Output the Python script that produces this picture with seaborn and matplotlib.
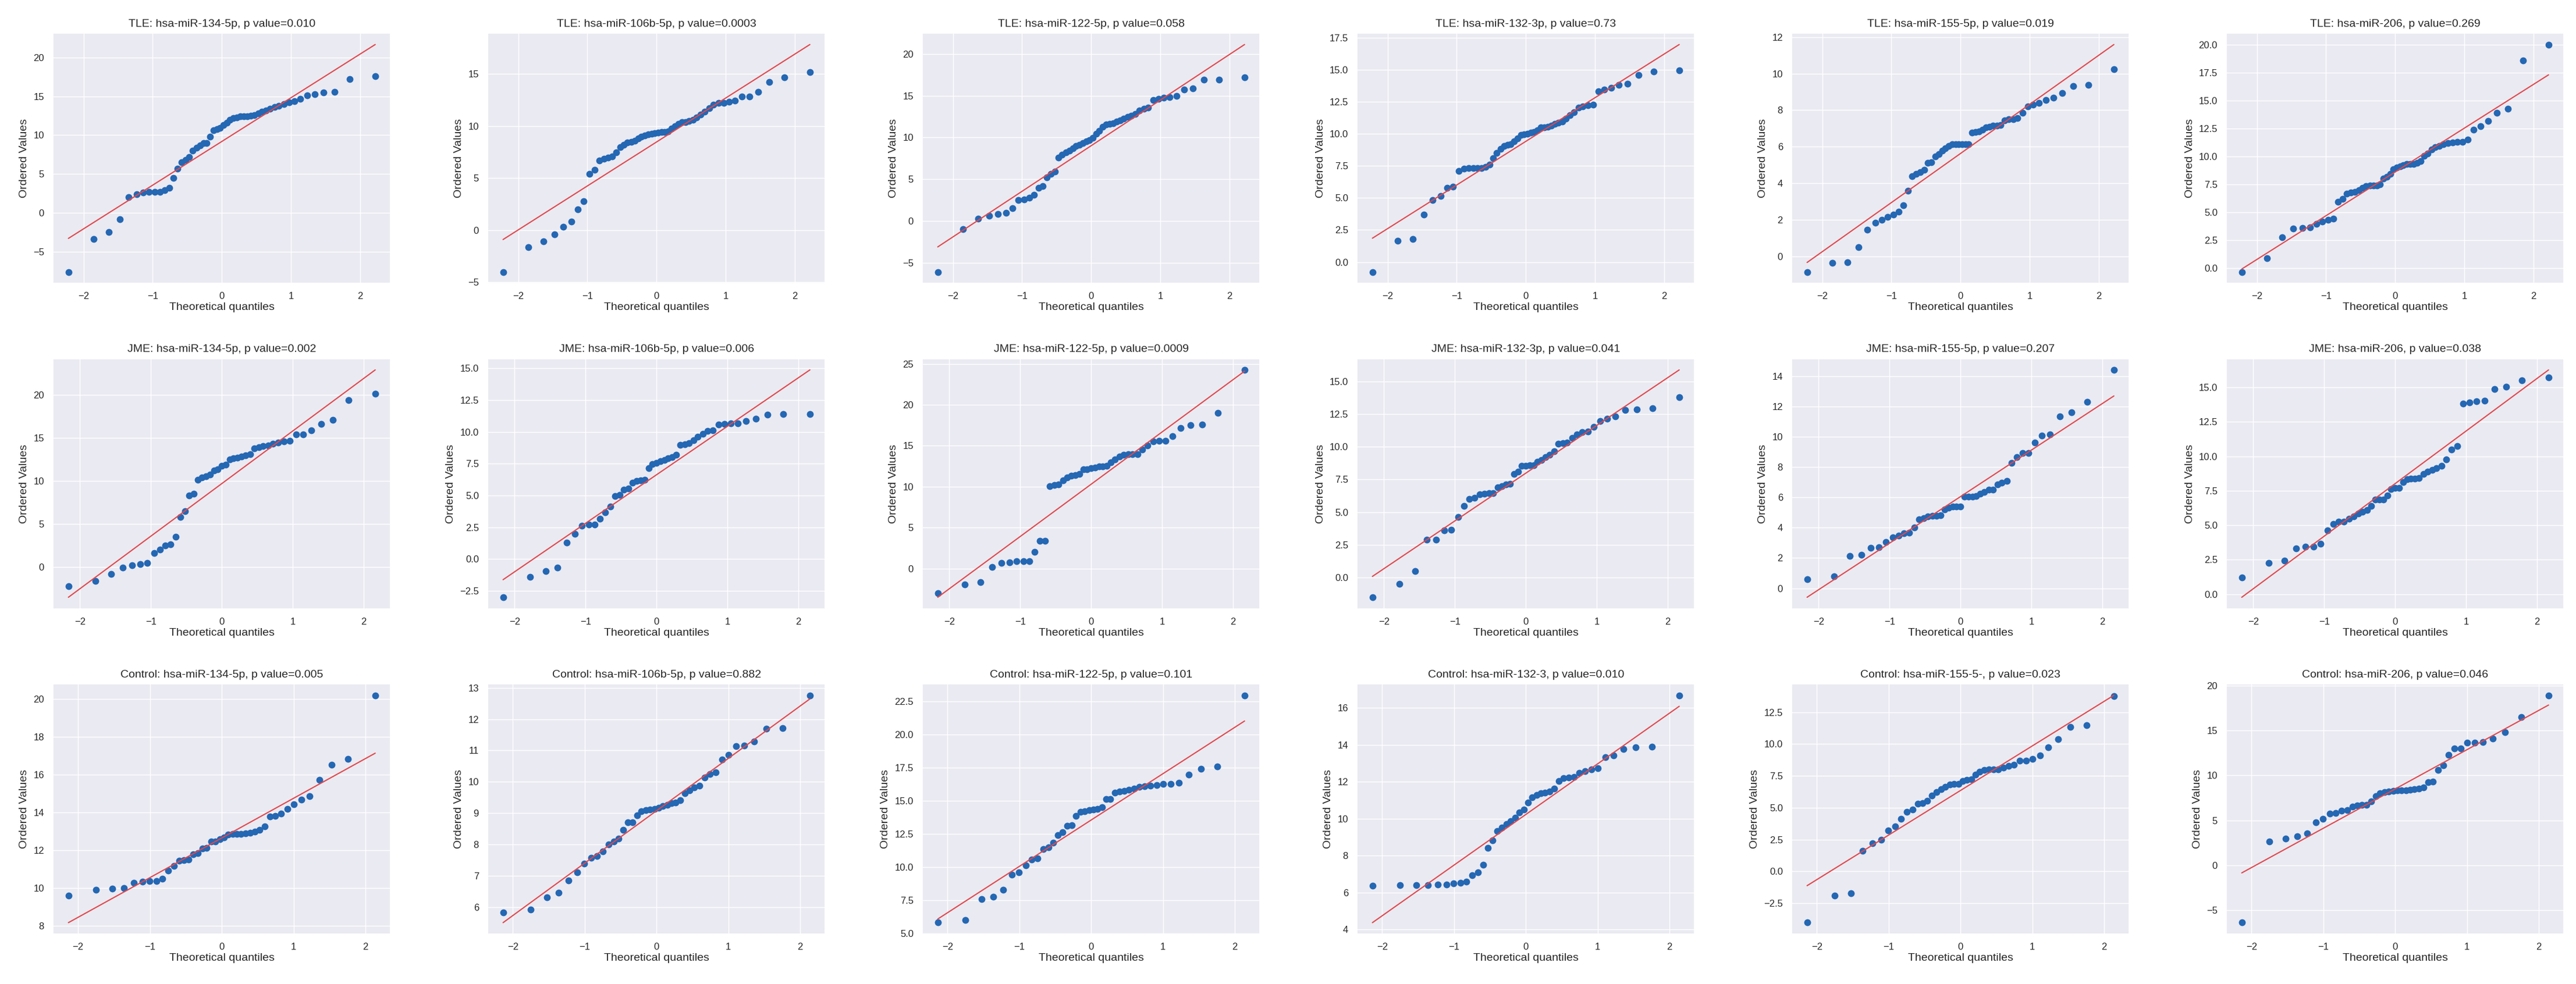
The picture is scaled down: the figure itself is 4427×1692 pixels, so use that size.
"""
Q-Q plots of miRNA expression (TLE / JME / Control), one panel per miRNA.
Ordered values read off the reference figure; theoretical quantiles use
the same Filliben order-statistic medians as scipy.stats.probplot.
"""

from statistics import NormalDist

import numpy as np
import matplotlib
matplotlib.use("Agg")
import matplotlib.pyplot as plt
import seaborn as sns

# ================== DATA ==================
GROUPS = ["TLE", "JME", "Control"]
MIRNAS = {
    "TLE": ["hsa-miR-134-5p", "hsa-miR-106b-5p", "hsa-miR-122-5p",
            "hsa-miR-132-3p", "hsa-miR-155-5p", "hsa-miR-206"],
    "JME": ["hsa-miR-134-5p", "hsa-miR-106b-5p", "hsa-miR-122-5p",
            "hsa-miR-132-3p", "hsa-miR-155-5p", "hsa-miR-206"],
    "Control": ["hsa-miR-134-5p", "hsa-miR-106b-5p", "hsa-miR-122-5p",
                "hsa-miR-132-3", "hsa-miR-155-5-", "hsa-miR-206"],
}
P_VALUES = {
    "TLE": ["0.010", "0.0003", "0.058", "0.73", "0.019", "0.269"],
    "JME": ["0.002", "0.006", "0.0009", "0.041", "0.207", "0.038"],
    "Control": ["0.005", "0.882", "0.101", "0.010", "0.023", "0.046"],
}

# TLE (n = 52)
TLE_134 = [-7.6, -3.35, -2.5, -0.8, 2.0, 2.4, 2.6, 2.7, 2.7, 2.7,
           2.9, 3.2, 4.5, 5.7, 6.5, 6.8, 7.2, 8.0, 8.4, 8.7,
           9.0, 9.0, 9.8, 10.6, 10.8, 10.9, 11.3, 11.6, 12.0, 12.2,
           12.3, 12.4, 12.4, 12.4, 12.5, 12.6, 12.8, 13.0, 13.2, 13.4,
           13.6, 13.8, 14.0, 14.2, 14.4, 14.7, 15.1, 15.3, 15.5, 15.6,
           17.2, 17.6]
TLE_106 = [-4.0, -1.65, -1.05, -0.4, 0.35, 0.85, 2.0, 2.8, 5.4, 5.8,
           6.7, 6.85, 6.95, 7.1, 7.45, 8.0, 8.2, 8.4, 8.45, 8.6,
           8.8, 9.0, 9.1, 9.2, 9.25, 9.3, 9.35, 9.4, 9.4, 9.5,
           9.75, 10.0, 10.2, 10.35, 10.4, 10.5, 10.6, 10.8, 11.1, 11.4,
           11.7, 12.05, 12.2, 12.2, 12.3, 12.45, 12.85, 12.85, 13.25, 14.25,
           14.65, 15.15]
TLE_122 = [-6.1, -1.0, 0.3, 0.65, 0.8, 1.0, 1.5, 2.5, 2.6, 2.75,
           3.1, 3.95, 4.2, 5.2, 5.6, 5.9, 7.6, 7.95, 8.2, 8.45,
           8.7, 8.95, 9.1, 9.3, 9.55, 9.7, 9.95, 10.45, 10.8, 11.3,
           11.55, 11.6, 11.7, 11.9, 12.05, 12.25, 12.45, 12.6, 12.8, 13.25,
           13.45, 13.6, 14.5, 14.6, 14.75, 14.85, 14.95, 15.7, 15.85, 16.9,
           16.9, 17.2]
TLE_132 = [-0.77, 1.67, 1.8, 3.7, 4.85, 5.15, 5.8, 5.9, 7.1, 7.3,
           7.35, 7.35, 7.35, 7.35, 7.4, 7.6, 8.1, 8.5, 8.85, 9.05,
           9.15, 9.2, 9.4, 9.65, 9.9, 9.95, 10.0, 10.1, 10.15, 10.3,
           10.5, 10.5, 10.55, 10.65, 10.8, 10.85, 10.95, 11.2, 11.45, 11.7,
           12.05, 12.15, 12.25, 12.3, 13.3, 13.45, 13.6, 13.8, 13.9, 14.6,
           14.85, 14.95]
TLE_155 = [-0.85, -0.37, -0.31, 0.5, 1.47, 1.85, 2.0, 2.15, 2.28, 2.45,
           2.8, 3.6, 4.38, 4.52, 4.61, 4.75, 5.12, 5.15, 5.47, 5.58,
           5.79, 5.9, 6.04, 6.13, 6.15, 6.15, 6.15, 6.15, 6.15, 6.77,
           6.82, 6.85, 6.94, 7.05, 7.1, 7.15, 7.17, 7.2, 7.45, 7.49,
           7.5, 7.57, 7.86, 8.2, 8.3, 8.38, 8.55, 8.67, 8.95, 9.33,
           9.38, 10.25]
TLE_206 = [-0.36, 0.87, 2.75, 3.5, 3.58, 3.6, 3.92, 4.15, 4.3, 4.43,
           5.9, 6.19, 6.66, 6.75, 6.8, 6.94, 7.17, 7.32, 7.36, 7.36,
           7.37, 7.5, 7.98, 8.17, 8.4, 8.83, 9.0, 9.1, 9.2, 9.3,
           9.3, 9.3, 9.38, 9.58, 10.05, 10.25, 10.6, 10.8, 10.94, 11.05,
           11.19, 11.25, 11.28, 11.3, 11.47, 12.4, 12.7, 13.13, 13.9, 14.26,
           18.55, 20.0]

# JME (n = 45)
JME_134 = [-2.27, -1.65, -0.84, -0.1, 0.22, 0.35, 0.47, 1.58, 2.0, 2.49,
           2.61, 3.48, 5.82, 6.51, 8.28, 8.53, 10.13, 10.38, 10.55, 10.75,
           11.24, 11.37, 11.74, 11.86, 12.52, 12.6, 12.67, 12.85, 12.97, 13.09,
           13.76, 13.9, 14.03, 14.15, 14.32, 14.45, 14.57, 14.69, 15.38, 15.4,
           15.88, 16.62, 17.09, 19.38, 20.17]
JME_106 = [-3.0, -1.39, -0.94, -0.65, 1.31, 2.0, 2.62, 2.7, 2.7, 3.16,
           3.66, 4.12, 4.98, 5.03, 5.48, 5.56, 6.03, 6.14, 6.19, 6.26,
           7.14, 7.47, 7.58, 7.68, 7.8, 7.91, 8.01, 8.21, 8.99, 9.01,
           9.12, 9.37, 9.62, 9.83, 10.08, 10.12, 10.58, 10.61, 10.66, 10.66,
           10.86, 11.03, 11.36, 11.39, 11.39]
JME_122 = [-3.03, -1.94, -1.68, 0.21, 0.7, 0.78, 0.91, 0.91, 0.91, 2.0,
           3.37, 3.37, 10.05, 10.18, 10.28, 10.8, 11.14, 11.32, 11.4, 11.53,
           12.1, 12.1, 12.25, 12.36, 12.49, 12.49, 12.56, 12.95, 13.34, 13.65,
           13.91, 13.99, 13.99, 13.99, 14.51, 15.03, 15.54, 15.62, 15.62, 16.19,
           17.18, 17.49, 17.59, 19.04, 24.27]
JME_132 = [-1.52, -0.48, 0.5, 2.87, 2.87, 3.6, 3.63, 4.6, 5.45, 5.98,
           6.1, 6.34, 6.42, 6.45, 6.45, 6.9, 6.98, 7.11, 7.18, 7.9,
           8.11, 8.56, 8.56, 8.6, 8.6, 8.84, 9.0, 9.21, 9.4, 9.65,
           10.24, 10.29, 10.34, 10.69, 10.94, 11.1, 11.18, 11.53, 11.95, 12.15,
           12.31, 12.82, 12.84, 12.95, 13.79]
JME_155 = [0.6, 0.77, 2.14, 2.19, 2.65, 2.7, 3.04, 3.35, 3.49, 3.63,
           3.66, 4.02, 4.54, 4.64, 4.75, 4.79, 4.79, 4.82, 5.21, 5.31,
           5.38, 5.38, 5.38, 6.03, 6.03, 6.03, 6.08, 6.22, 6.36, 6.49,
           6.49, 6.87, 6.96, 7.08, 8.27, 8.66, 8.91, 8.91, 9.61, 10.08,
           10.17, 11.34, 11.62, 12.32, 14.41]
JME_206 = [1.2, 2.25, 2.45, 3.32, 3.45, 3.45, 3.66, 4.63, 5.09, 5.25,
           5.26, 5.48, 5.63, 5.86, 5.97, 6.12, 6.4, 6.86, 6.86, 6.86,
           7.17, 7.63, 7.71, 7.71, 8.12, 8.32, 8.37, 8.4, 8.43, 8.71,
           8.89, 9.02, 9.14, 9.32, 9.78, 10.48, 10.74, 13.82, 13.91, 13.98,
           14.02, 14.86, 15.05, 15.51, 15.71]

# Control (n = 42)
CTRL_134 = [9.6, 9.91, 9.96, 10.01, 10.29, 10.33, 10.38, 10.38, 10.5, 10.94,
            11.17, 11.45, 11.47, 11.5, 11.79, 11.84, 12.1, 12.13, 12.46, 12.47,
            12.58, 12.69, 12.83, 12.86, 12.86, 12.87, 12.88, 12.92, 12.97, 13.08,
            13.25, 13.78, 13.81, 13.93, 14.18, 14.43, 14.68, 14.86, 15.73, 16.51,
            16.82, 20.19]
CTRL_106 = [5.83, 5.93, 6.32, 6.46, 6.85, 7.12, 7.39, 7.58, 7.63, 7.78,
            8.01, 8.1, 8.19, 8.47, 8.71, 8.71, 8.93, 9.07, 9.1, 9.12,
            9.14, 9.17, 9.22, 9.27, 9.32, 9.34, 9.42, 9.64, 9.73, 9.83,
            9.88, 10.13, 10.24, 10.3, 10.72, 10.86, 11.13, 11.16, 11.29, 11.69,
            11.71, 12.76]
CTRL_122 = [5.8, 6.01, 7.6, 7.76, 8.28, 9.44, 9.6, 10.13, 10.56, 10.67,
            11.36, 11.47, 11.84, 12.4, 12.64, 13.12, 13.17, 13.87, 14.16, 14.21,
            14.29, 14.35, 14.4, 14.51, 15.12, 15.16, 15.63, 15.72, 15.76, 15.84,
            15.95, 16.04, 16.1, 16.15, 16.2, 16.27, 16.3, 16.39, 17.0, 17.43,
            17.59, 22.98]
CTRL_132 = [6.38, 6.39, 6.42, 6.42, 6.44, 6.45, 6.51, 6.53, 6.59, 6.94,
            7.11, 7.51, 8.43, 8.84, 9.35, 9.53, 9.7, 9.87, 10.05, 10.33,
            10.51, 10.89, 11.16, 11.28, 11.39, 11.43, 11.49, 11.62, 12.04, 12.2,
            12.23, 12.27, 12.5, 12.58, 12.66, 12.75, 13.33, 13.42, 13.79, 13.88,
            13.9, 16.69]
CTRL_155 = [-4.03, -1.91, -1.71, 1.62, 2.2, 2.49, 3.23, 3.51, 4.14, 4.67,
            4.84, 5.3, 5.34, 5.55, 5.97, 6.22, 6.46, 6.63, 6.8, 6.88,
            6.88, 7.09, 7.16, 7.21, 7.59, 7.82, 7.96, 7.99, 7.99, 8.0,
            8.12, 8.29, 8.37, 8.7, 8.71, 8.82, 9.08, 9.75, 10.36, 11.35,
            11.47, 13.76]
CTRL_206 = [-6.38, 2.68, 2.99, 3.23, 3.58, 4.76, 5.18, 5.74, 5.81, 6.05,
            6.12, 6.52, 6.69, 6.76, 6.76, 7.11, 7.7, 8.0, 8.17, 8.24,
            8.29, 8.33, 8.33, 8.34, 8.4, 8.47, 8.52, 8.64, 9.23, 9.35,
            10.64, 11.11, 12.29, 12.99, 13.0, 13.65, 13.66, 13.7, 14.12, 14.83,
            16.53, 18.93]

VALUES = {
    "TLE": [TLE_134, TLE_106, TLE_122, TLE_132, TLE_155, TLE_206],
    "JME": [JME_134, JME_106, JME_122, JME_132, JME_155, JME_206],
    "Control": [CTRL_134, CTRL_106, CTRL_122, CTRL_132, CTRL_155, CTRL_206],
}

# ================== CONFIGURATION ==================
OUT_FILE = "out.png"
DOT_COLOR = "#2467b3"
LINE_COLOR = "#e2474b"


def theoretical_quantiles(n):
    """Filliben order-statistic medians, as in scipy.stats.probplot."""
    m = [(i - 0.3175) / (n + 0.365) for i in range(1, n + 1)]
    m[-1] = 0.5 ** (1.0 / n)
    m[0] = 1 - m[-1]
    nd = NormalDist()
    return np.array([nd.inv_cdf(p) for p in m])


def main():
    sns.set_theme(style="darkgrid")
    plt.rcParams["font.family"] = ["Liberation Sans", "DejaVu Sans"]

    fig, axes = plt.subplots(3, 6, figsize=(44.27, 16.92), dpi=100)
    fig.subplots_adjust(left=0.0206, right=0.9953, top=0.9663, bottom=0.0508,
                        wspace=0.288, hspace=0.301)

    for r, group in enumerate(GROUPS):
        for c in range(6):
            ax = axes[r, c]
            y = np.sort(np.array(VALUES[group][c]))
            x = theoretical_quantiles(len(y))
            sns.regplot(x=x, y=y, ax=ax, ci=None, color=DOT_COLOR,
                        scatter_kws={"s": 72, "linewidths": 0, "alpha": 1},
                        line_kws={"color": LINE_COLOR, "lw": 1.5})
            ax.set_title(f"{group}: {MIRNAS[group][c]}, p value={P_VALUES[group][c]}",
                         fontsize=14, pad=8)
            ax.set_xlabel("Theoretical quantiles", fontsize=14, labelpad=2)
            ax.set_ylabel("Ordered Values", fontsize=14, labelpad=5)
            ax.tick_params(axis="both", labelsize=12, length=0, pad=11)

    fig.savefig(OUT_FILE, dpi=100)


if __name__ == "__main__":
    main()
